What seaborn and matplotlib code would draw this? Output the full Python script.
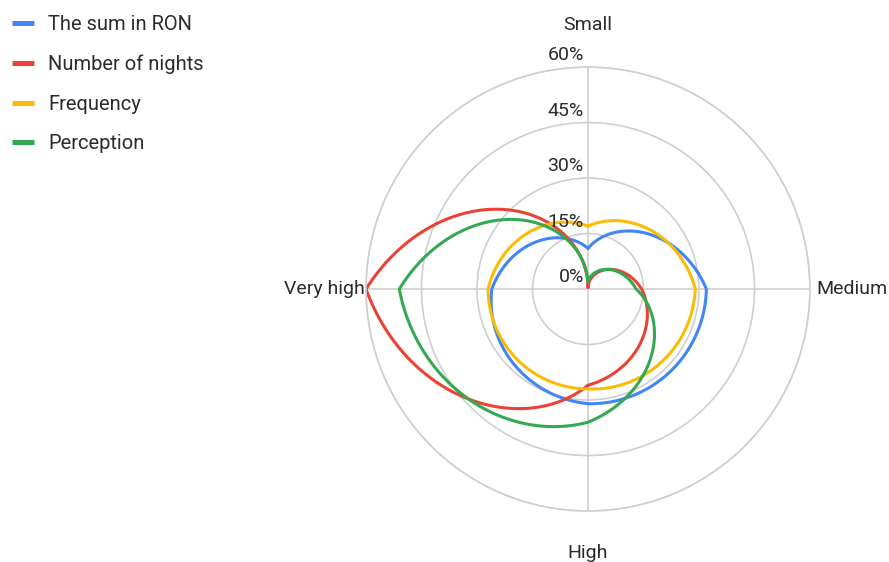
import numpy as np
import pandas as pd
import seaborn as sns
import matplotlib.pyplot as plt
from matplotlib.lines import Line2D

# data (percent)
categories = ['Small', 'Medium', 'High', 'Very high']
series = ['The sum in RON', 'Number of nights', 'Frequency', 'Perception']
sum_ron = [11, 32, 31, 26]
nights = [0.5, 14.5, 26, 60]
frequency = [17, 29, 27, 27]
perception = [2, 13, 36, 51]
colors = ['#4285F4', '#EA4335', '#FBBC04', '#34A853']
r_ticks = [0, 15, 30, 45, 60]

sns.set_theme(style='white')
plt.rcParams['font.family'] = ['Roboto', 'DejaVu Sans']
text_col = '#2b2b2b'

# long table, each loop closed back on the first category
angles = np.linspace(0, 2 * np.pi, len(categories) + 1)
rows = []
for name, vals in zip(series, [sum_ron, nights, frequency, perception]):
    for a, v in zip(angles, vals + vals[:1]):
        rows.append({'series': name, 'angle': a, 'value': v})
df = pd.DataFrame(rows)

fig = plt.figure(figsize=(8.89, 5.62), dpi=100)
ax = fig.add_axes([0.4117, 0.0907, 0.4994, 0.79], projection='polar')
ax.set_theta_offset(np.pi / 2)
ax.set_theta_direction(-1)

sns.lineplot(data=df, x='angle', y='value', hue='series', hue_order=series,
             palette=colors, sort=False, estimator=None, linewidth=2.2,
             legend=False, ax=ax)
# let the polar transform bend the segments like the original curves
for line in ax.lines:
    line.get_path()._interpolation_steps = 200

ax.set_ylim(0, 60)
ax.set_yticks(r_ticks)
ax.set_yticklabels([])
ax.set_xticks(angles[:-1])
ax.set_xticklabels(categories, fontsize=14, color=text_col)
ax.tick_params(axis='x', pad=17)
ax.grid(True, color='#cfcfcf', linewidth=1.2)
ax.spines['polar'].set_color('#cfcfcf')
ax.spines['polar'].set_linewidth(1.2)
ax.set_xlabel('')
ax.set_ylabel('')

for r in r_ticks:
    ax.annotate(f'{r}%', xy=(0, r), xytext=(-3, 5), textcoords='offset points',
                ha='right', va='baseline', fontsize=14, color=text_col)

handles = [Line2D([], [], color=c, linewidth=3.6, solid_capstyle='butt') for c in colors]
fig.legend(handles, series, loc='upper left', bbox_to_anchor=(12 / 889, 1 - 15 / 562),
           frameon=False, fontsize=14.5, handlelength=1.1, handletextpad=0.7,
           labelspacing=1.02, borderpad=0, borderaxespad=0, labelcolor=text_col)

plt.savefig('out.png', dpi=100)
